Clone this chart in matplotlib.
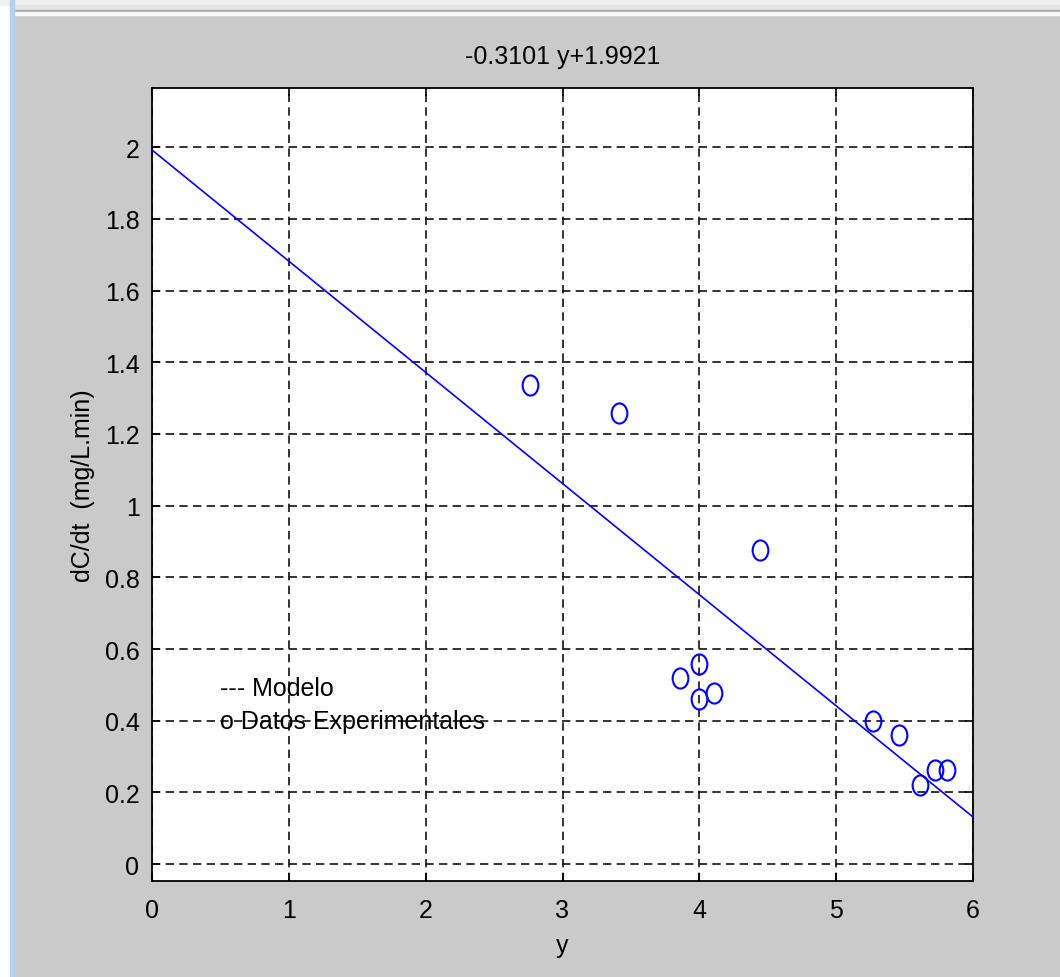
import matplotlib
matplotlib.use("Agg")
import matplotlib.pyplot as plt
import numpy as np
from matplotlib.path import Path
from matplotlib.markers import MarkerStyle
from matplotlib.patches import Rectangle

y_exp = [2.76, 3.41, 4.44, 3.86, 4.00, 4.00, 4.11, 5.27, 5.46, 5.61, 5.72, 5.81]
dcdt_exp = [1.337, 1.259, 0.877, 0.520, 0.557, 0.461, 0.478, 0.400, 0.361, 0.221, 0.264, 0.264]

# fitted model
slope = -0.3101
intercept = 1.9921
y_model = [0, 6]

xticks = [0, 1, 2, 3, 4, 5, 6]
yticks = [0, 0.2, 0.4, 0.6, 0.8, 1, 1.2, 1.4, 1.6, 1.8, 2]

plt.rcParams["font.family"] = ["Liberation Sans", "DejaVu Sans"]
FS = 18
BG = "#cacaca"

fig = plt.figure(figsize=(10.6, 9.78), dpi=100, facecolor=BG)

# window frame bits (white strip, light blue edge, top border lines)
W, H = 1060, 978
def px_rect(x0, y0, w, h, color):
    fig.patches.append(Rectangle((x0 / W, 1 - (y0 + h) / H), w / W, h / H,
                                 transform=fig.transFigure, color=color, zorder=0))

px_rect(0, 0, 10, H, "white")
px_rect(0, 0, W, 6, "#f0f0f0")
px_rect(10, 6, W, 5, "#e6e6e6")
px_rect(10, 11, W, 2, "#a8a8a8")
px_rect(10, 13, W, 3, "#f8f8f8")
px_rect(10, 0, 4, H, "#b9d1ea")

ax = fig.add_axes([152 / W, 1 - 882 / H, (973 - 152) / W, (882 - 89) / H])
ax.set_facecolor("white")

ax.plot(y_model, [slope * v + intercept for v in y_model], color="blue", lw=1.2, zorder=3)

# MATLAB circles look slightly tall in the screenshot
circ = Path.unit_circle()
ell = Path(circ.vertices * np.array([0.78, 1.0]), circ.codes)
ax.plot(y_exp, dcdt_exp, linestyle="none", marker=MarkerStyle(ell), markersize=14.5,
        markerfacecolor="none", markeredgecolor="blue", markeredgewidth=1.5, zorder=4)

ax.set_xlim(0, 6)
ax.set_ylim(-0.047, 2.165)
ax.set_xticks(xticks)
ax.set_yticks(yticks)
ax.set_xticklabels([str(t) for t in xticks])
ax.set_yticklabels([f"{t:g}" for t in yticks])
ax.tick_params(direction="in", length=6, width=1.2, top=True, right=True,
               labelsize=FS, colors="black")
ax.tick_params(axis="x", pad=12)
ax.tick_params(axis="y", pad=9)
ax.grid(True, color="#111111", linestyle=(0, (5, 3.2)), linewidth=1.2)
for s in ax.spines.values():
    s.set_linewidth(1.3)

ax.set_title("-0.3101 y+1.9921", fontsize=FS, pad=18)
ax.set_xlabel("y", fontsize=FS, labelpad=8)
ax.set_ylabel("dC/dt  (mg/L.min)", fontsize=FS, labelpad=7)

ax.text(0.5, 0.49, "--- Modelo", fontsize=FS, va="center", ha="left", zorder=5)
ax.text(0.5, 0.40, "o Datos Experimentales", fontsize=FS, va="center", ha="left", zorder=5)

fig.savefig("out.png", dpi=100, facecolor=BG)
